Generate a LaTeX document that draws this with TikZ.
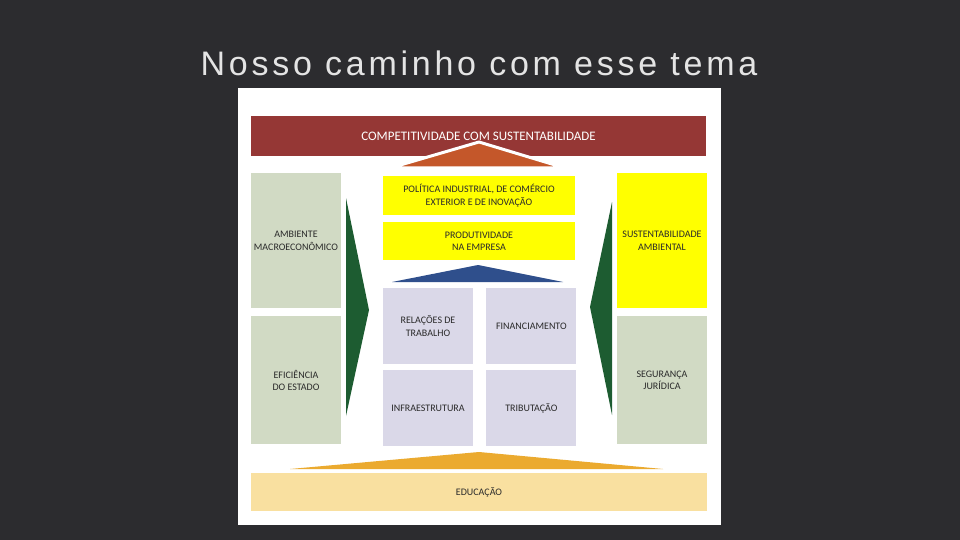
\documentclass[tikz,border=0pt]{standalone}
\usepackage{fontspec}
\setmainfont{Carlito}
\newfontfamily\titlefont[LetterSpace=11]{Liberation Sans}
\usepackage{xcolor}
\definecolor{pilBg}{HTML}{2C2C2F}
\definecolor{pilTitle}{HTML}{E4E4E4}
\definecolor{pilRed}{HTML}{953735}
\definecolor{pilOrange}{HTML}{C4572A}
\definecolor{pilYellow}{HTML}{FFFF00}
\definecolor{pilSage}{HTML}{D1DAC4}
\definecolor{pilLavender}{HTML}{DAD8E8}
\definecolor{pilGreen}{HTML}{1D5C31}
\definecolor{pilBlue}{HTML}{2F4F8C}
\definecolor{pilGold}{HTML}{EBAA2F}
\definecolor{pilSand}{HTML}{F9E0A0}
\definecolor{pilText}{HTML}{2A2A2A}
\usepackage{tikz}
\usetikzlibrary{positioning}

\begin{document}
\begin{tikzpicture}[
        x=1pt, y=-1pt,
        node distance=8pt and 13pt,
        sidebox/.style={rectangle, fill=pilSage, minimum width=90pt, minimum height=135pt, align=center, inner sep=1pt, text=pilText, font=\fontsize{10}{12.7}\selectfont},
        yellowbox/.style={rectangle, fill=pilYellow, minimum width=192pt, minimum height=39pt, align=center, inner sep=1pt, text=pilText, font=\fontsize{10}{12.7}\selectfont},
        pillarbox/.style={rectangle, fill=pilLavender, minimum width=90pt, minimum height=76pt, align=center, inner sep=1pt, text=pilText, font=\fontsize{10}{12.7}\selectfont},
        roof/.style={draw=white, line width=3pt, line join=round},
    ]
        % Background and page
        \fill[pilBg] (0,0) rectangle (960,540);
        \fill[white] (238,88) rectangle (721,525);
        \node[text=pilTitle, font=\titlefont\fontsize{34}{40}\selectfont] (title) at (479,63) {Nosso caminho com esse tema};

        % Roof
        \node[rectangle, fill=pilRed, minimum width=455pt, minimum height=40pt, text=white, font=\fontsize{13}{15}\selectfont] (compet) at (478.5,136) {COMPETITIVIDADE COM SUSTENTABILIDADE};
        \filldraw[roof, fill=pilOrange] (390,168) -- (479,142) -- (565,168) -- cycle;

        % Centre
        \node[yellowbox] (pol) at (479,195.5) {POLÍTICA INDUSTRIAL, DE COMÉRCIO\\EXTERIOR E DE INOVAÇÃO};
        \node[yellowbox, below=7pt of pol, minimum height=38pt] (prod) {PRODUTIVIDADE\\NA EMPRESA};
        \fill[pilBlue] (392,282) -- (478,265) -- (563,282) -- cycle;

        % Pillars
        \node[pillarbox] (rel) at (428,326) {RELAÇÕES DE\\TRABALHO};
        \node[pillarbox, right=13pt of rel] (fin) {FINANCIAMENTO};
        \node[pillarbox, below=6pt of rel] (infra) {INFRAESTRUTURA};
        \node[pillarbox, below=6pt of fin] (trib) {TRIBUTAÇÃO};

        % Left column
        \node[sidebox] (amb) at (296,240.5) {AMBIENTE\\MACROECONÔMICO};
        \node[sidebox, below=of amb, minimum height=128pt] (efic) {EFICIÊNCIA\\DO ESTADO};
        \fill[pilGreen] (346,198) -- (369,310) -- (346,416) -- cycle;

        % Right column
        \node[sidebox, fill=pilYellow] (sust) at (662,240.5) {SUSTENTABILIDADE\\AMBIENTAL};
        \node[sidebox, below=of sust, minimum height=128pt] (seg) {SEGURANÇA\\JURÍDICA};
        \fill[pilGreen] (612,202) -- (590,307) -- (612,415) -- cycle;

        % Base
        \fill[pilGold] (290,469) -- (479,452) -- (663,469) -- cycle;
        \node[rectangle, fill=pilSand, minimum width=456pt, minimum height=38pt, text=pilText, font=\fontsize{10}{12}\selectfont] (edu) at (479,492) {EDUCAÇÃO};

    \end{tikzpicture}
\end{document}
